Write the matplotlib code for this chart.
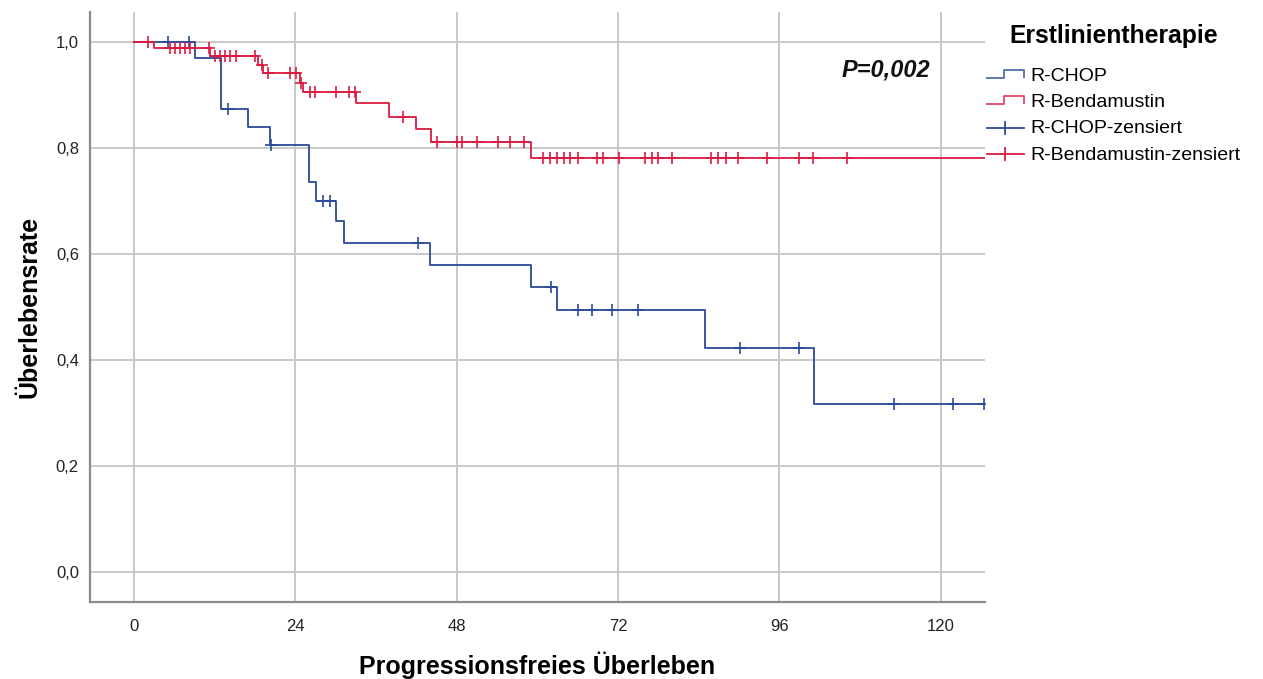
import numpy as np
import matplotlib
matplotlib.use("Agg")
import matplotlib.pyplot as plt
from matplotlib.lines import Line2D
from matplotlib.legend_handler import HandlerBase

plt.rcParams['font.family'] = ['Liberation Sans', 'DejaVu Sans']

# ---- data ----
chop_event_times = [9.0, 12.9, 17.0, 20.2, 26.1, 27.1, 30.1, 31.2, 44.0, 59.0, 63.0, 85.0, 101.1]
chop_survival    = [0.969, 0.873, 0.839, 0.805, 0.735, 0.700, 0.662, 0.621, 0.580, 0.538, 0.494, 0.423, 0.317]
chop_censored    = [5.1, 8.2, 14.0, 20.4, 28.1, 29.1, 42.2, 62.0, 66.1, 68.1, 71.1, 75.0, 90.1, 99.0,
                    113.0, 121.9, 126.5]
chop_last_followup = 126.5

benda_event_times = [3.0, 11.3, 18.5, 19.2, 24.7, 25.2, 33.0, 38.0, 42.0, 44.2, 59.1]
benda_survival    = [0.988, 0.974, 0.957, 0.941, 0.922, 0.905, 0.884, 0.859, 0.835, 0.812, 0.782]
benda_censored    = [2.1, 5.4, 6.1, 6.8, 7.6, 8.3, 11.1, 12.1, 12.8, 13.5, 14.3, 15.2, 18.0, 19.1,
                     20.0, 23.2, 24.1, 24.9, 26.2, 26.9, 30.0, 32.0, 32.9, 40.0, 45.1, 48.0, 48.8,
                     51.0, 54.1, 56.0, 58.0, 60.9, 61.9, 62.9, 63.9, 64.9, 66.1, 68.9, 69.8, 72.1,
                     76.0, 77.0, 78.0, 80.0, 85.9, 86.9, 88.0, 89.9, 94.2, 99.0, 101.0, 106.0]
benda_last_followup = 130.0

x_ticks = [0, 24, 48, 72, 96, 120]
y_ticks = [0.0, 0.2, 0.4, 0.6, 0.8, 1.0]
y_tick_labels = ["0,0", "0,2", "0,4", "0,6", "0,8", "1,0"]
group_labels = ["R-CHOP", "R-Bendamustin", "R-CHOP-zensiert", "R-Bendamustin-zensiert"]
legend_title = "Erstlinientherapie"
p_text = "P=0,002"

BLUE = '#2A4A96'
RED = '#DC1A40'


def km_step(events, surv, end):
    t = np.concatenate([[0.0], events, [end]])
    s = np.concatenate([[1.0], surv, [surv[-1]]])
    return t, s


def surv_at(times, events, surv):
    ev = np.asarray(events)
    sv = np.concatenate([[1.0], surv])
    idx = np.searchsorted(ev, np.asarray(times), side='right')
    return sv[idx]


fig = plt.figure(figsize=(12.63, 6.79), dpi=100)
ax = fig.add_axes([90 / 1263, 1 - 602 / 679, (985 - 90) / 1263, (602 - 12) / 679])

ax.set_xlim(-6.55, 126.6)
ax.set_ylim(-0.0566, 1.0566)

ax.set_xticks(x_ticks)
ax.set_yticks(y_ticks)
ax.set_yticklabels(y_tick_labels)
ax.grid(True, color='#C8C8C8', linewidth=1.4)
ax.set_axisbelow(True)
for side in ['top', 'right']:
    ax.spines[side].set_visible(False)
for side in ['left', 'bottom']:
    ax.spines[side].set_color('#8C8C8C')
    ax.spines[side].set_linewidth(1.6)
ax.tick_params(axis='both', length=0, labelsize=12, colors='#222222')
ax.tick_params(axis='y', pad=8)
ax.tick_params(axis='x', pad=12)

t, s = km_step(chop_event_times, chop_survival, chop_last_followup)
ax.step(t, s, where='post', color=BLUE, lw=1.3, clip_on=True)
t, s = km_step(benda_event_times, benda_survival, benda_last_followup)
ax.step(t, s, where='post', color=RED, lw=1.3, clip_on=True)

ax.plot(chop_censored, surv_at(chop_censored, chop_event_times, chop_survival), ls='none',
        marker='+', ms=9, mew=1.2, color=BLUE, clip_on=True)
ax.plot(benda_censored, surv_at(benda_censored, benda_event_times, benda_survival), ls='none',
        marker='+', ms=9, mew=1.2, color=RED, clip_on=True)

ax.set_xlabel("Progressionsfreies Überleben", fontsize=18, fontweight='bold', labelpad=13)
ax.set_ylabel("Überlebensrate", fontsize=18, fontweight='bold', labelpad=10)

ax.text(105.2, 0.947, p_text, fontsize=17, fontweight='bold', fontstyle='italic',
        ha='left', va='center', color='#111111')


class StepHandler(HandlerBase):
    def __init__(self, color):
        super().__init__()
        self.color = color

    def create_artists(self, legend, orig_handle, xdescent, ydescent, width, height, fontsize, trans):
        x0 = -xdescent
        y0 = -ydescent
        xs = [x0, x0 + 0.47 * width, x0 + 0.47 * width, x0 + width, x0 + width]
        ys = [y0 + 0.2 * height, y0 + 0.2 * height, y0 + 0.8 * height, y0 + 0.8 * height, y0 + 0.3 * height]
        ln = Line2D(xs, ys, color=self.color, lw=1.4, alpha=0.75, transform=trans)
        return [ln]


class CensorHandler(HandlerBase):
    def __init__(self, color):
        super().__init__()
        self.color = color

    def create_artists(self, legend, orig_handle, xdescent, ydescent, width, height, fontsize, trans):
        x0 = -xdescent
        y0 = -ydescent
        ym = y0 + 0.4 * height
        ln = Line2D([x0, x0 + width], [ym, ym], color=self.color, lw=1.3, transform=trans)
        tk = Line2D([x0 + 0.5 * width] * 2, [ym - 0.45 * height, ym + 0.45 * height],
                    color=self.color, lw=1.3, transform=trans)
        return [ln, tk]


h1 = Line2D([], [], color=BLUE)
h2 = Line2D([], [], color=RED)
h3 = Line2D([], [], color=BLUE, marker='+')
h4 = Line2D([], [], color=RED, marker='+')
leg = fig.legend([h1, h2, h3, h4], group_labels, loc='upper left',
                 bbox_to_anchor=(987 / 1263, 1 - 24 / 679), frameon=False,
                 fontsize=14, title=legend_title,
                 title_fontproperties={'size': 17.8, 'weight': 'bold'},
                 handlelength=1.9, handletextpad=0.35, labelspacing=0.44, borderpad=0,
                 borderaxespad=0,
                 handler_map={h1: StepHandler(BLUE), h2: StepHandler(RED),
                              h3: CensorHandler(BLUE), h4: CensorHandler(RED)})
leg._legend_box.sep = 14

fig.savefig("out.png", dpi=100)
